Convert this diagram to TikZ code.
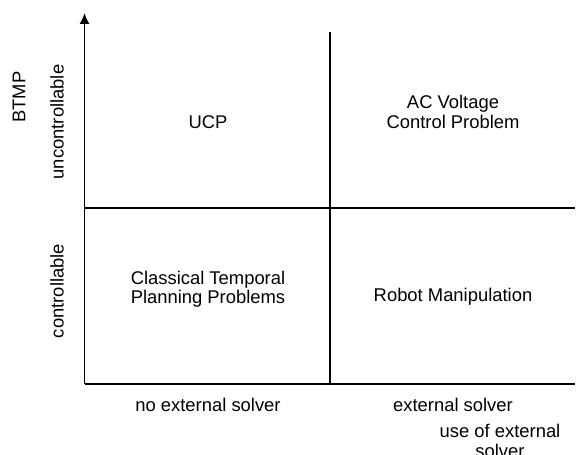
\documentclass[tikz,border=0pt]{standalone}
\usepackage{fontspec}
\setmainfont{Liberation Sans}
\usetikzlibrary{arrows.meta}

\begin{document}
\begin{tikzpicture}[x=0.5pt, y=0.5pt, line width=0.75pt,
  lbl/.style={align=center, font=\fontsize{9.2}{9.6}\selectfont, inner sep=0pt},
  sidelbl/.style={lbl, rotate=90}]
  \useasboundingbox (0,0) rectangle (576,454);
  % axes and quadrant lines
  \coordinate (o) at (84.5,70);
  \coordinate (ytop) at (84.5,441);
  \coordinate (xend) at (575,70);
  \coordinate (vtop) at (330,422);
  \coordinate (vbot) at (330,70);
  \coordinate (hleft) at (84.5,246);
  \coordinate (hright) at (575,246);
  \draw[-{Latex[length=5.5pt,width=5pt]}] (o) -- (ytop);
  \draw (o) -- (xend);
  \draw (vbot) -- (vtop);
  \draw (hleft) -- (hright);
  % quadrants
  \node[lbl] (ucp) at (208,332) {UCP};
  \node[lbl] (acv) at (453,342) {AC Voltage\\Control Problem};
  \node[lbl] (ctp) at (208,165) {Classical Temporal\\Planning Problems};
  \node[lbl] (robot) at (453,157) {Robot Manipulation};
  % axis labels
  \node[sidelbl] (btmp) at (19,357) {BTMP};
  \node[sidelbl] (unctrl) at (57,332) {uncontrollable};
  \node[sidelbl] (ctrl) at (57,163) {controllable};
  \node[lbl] (noext) at (208,49) {no external solver};
  \node[lbl] (ext) at (453,49) {external solver};
  \node[lbl] (useext) at (500,13) {use of external\\solver};
\end{tikzpicture}
\end{document}
